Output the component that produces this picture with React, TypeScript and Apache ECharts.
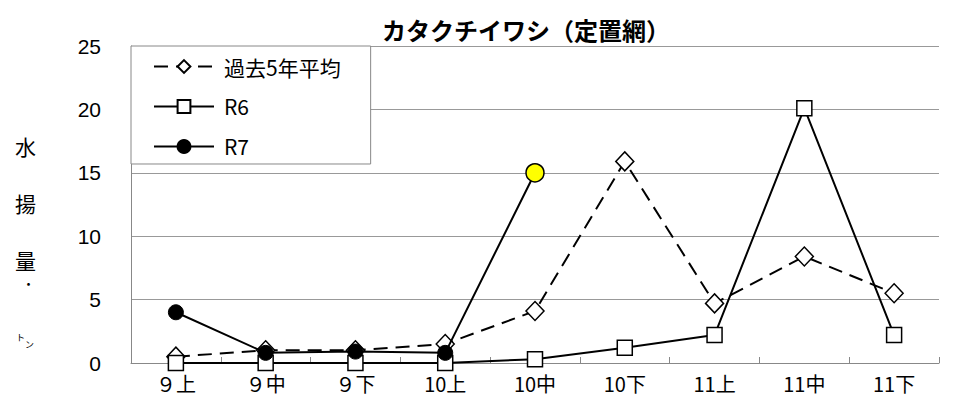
import React, { useEffect, useRef } from "react";
import * as echarts from "echarts";

const categories = ["９上", "９中", "９下", "10上", "10中", "10下", "11上", "11中", "11下"];
const avg5 = [0.5, 1.0, 1.0, 1.5, 4.1, 15.9, 4.7, 8.4, 5.5];
const r6 = [0, 0, 0, 0, 0.3, 1.2, 2.2, 20.1, 2.2];
const r7 = [4.0, 0.8, 0.9, 0.8, 15.0, null, null, null, null];
const seriesNames = ["過去5年平均", "R6", "R7"];
const titleText = "カタクチイワシ（定置網）";
const yLabelChars = ["水", "揚", "量"];

const NUM_FONT = "'Liberation Sans Narrow', 'Liberation Sans', Arial, sans-serif";
const JP_FONT = "'Noto Sans CJK JP', sans-serif";

export default function App() {
  const ref = useRef<HTMLDivElement>(null);
  useEffect(() => {
    if (!ref.current) return;
    const chart = echarts.init(ref.current, undefined, { renderer: "svg" });
    const lastR7 = r7.reduce((acc: number, v, i) => (v != null ? i : acc), -1);
    const r7Data = r7.map((v, i) =>
      i === lastR7 && v != null
        ? { value: v, symbolSize: 18, itemStyle: { color: "#ffff00", borderColor: "#000", borderWidth: 1.5 } }
        : v
    );
    chart.setOption({
      animation: false,
      backgroundColor: "#fff",
      title: {
        text: titleText,
        left: 377,
        top: 12,
        textStyle: { fontSize: 24, fontWeight: "bold", color: "#000", fontFamily: JP_FONT },
      },
      grid: { left: 131, right: 21, top: 46, bottom: 48 },
      legend: {
        orient: "vertical",
        left: 131,
        top: 46,
        data: seriesNames,
        backgroundColor: "#fff",
        borderColor: "#888",
        borderWidth: 1,
        padding: [10, 30, 7, 22],
        itemGap: 19,
        itemWidth: 60,
        itemHeight: 16,
        textStyle: { fontSize: 21, color: "#000", fontFamily: JP_FONT, padding: [0, 0, 0, 5] },
      },
      xAxis: {
        type: "category",
        data: categories,
        boundaryGap: true,
        axisLine: { show: true, lineStyle: { color: "#888", width: 1 } },
        axisTick: { show: true, inside: true, length: 6, lineStyle: { color: "#888" } },
        axisLabel: { fontSize: 20, color: "#000", margin: 10, fontFamily: JP_FONT },
      },
      yAxis: {
        type: "value",
        min: 0,
        max: 25,
        interval: 5,
        axisLine: { show: true, lineStyle: { color: "#888", width: 1 } },
        axisTick: { show: false },
        splitLine: { show: true, lineStyle: { color: "#999", width: 1 } },
        axisLabel: { fontSize: 21, color: "#000", margin: 30, fontFamily: NUM_FONT },
      },
      series: [
        {
          name: seriesNames[0],
          type: "line",
          data: avg5,
          symbol: "diamond",
          symbolSize: [18, 19],
          z: 2,
          lineStyle: { color: "#000", width: 2, type: [14, 8] },
          itemStyle: { color: "#fff", borderColor: "#000", borderWidth: 1.5 },
        },
        {
          name: seriesNames[1],
          type: "line",
          data: r6,
          symbol: "rect",
          symbolSize: 15,
          z: 3,
          lineStyle: { color: "#000", width: 2 },
          itemStyle: { color: "#fff", borderColor: "#000", borderWidth: 1.5 },
        },
        {
          name: seriesNames[2],
          type: "line",
          data: r7Data,
          symbol: "circle",
          symbolSize: 15,
          z: 4,
          connectNulls: false,
          lineStyle: { color: "#000", width: 2 },
          itemStyle: { color: "#000", borderColor: "#000", borderWidth: 1 },
        },
      ],
      graphic: [
        ...yLabelChars.map((c, i) => ({
          type: "text",
          left: 15,
          top: [135, 192, 249][i],
          style: { text: c, fontSize: 21, fill: "#000", fontFamily: JP_FONT },
        })),
        { type: "text", left: 22, top: 277, style: { text: "・", fontSize: 13, fill: "#000", fontFamily: JP_FONT } },
        { type: "text", left: 16, top: 333, style: { text: "ト", fontSize: 9, fill: "#000", fontFamily: JP_FONT } },
        { type: "text", left: 25, top: 340, style: { text: "ン", fontSize: 9, fill: "#000", fontFamily: JP_FONT } },
      ],
    });
    return () => chart.dispose();
  }, []);
  return <div ref={ref} style={{ position: "absolute", left: 0, top: 0, width: 960, height: 411 }} />;
}
